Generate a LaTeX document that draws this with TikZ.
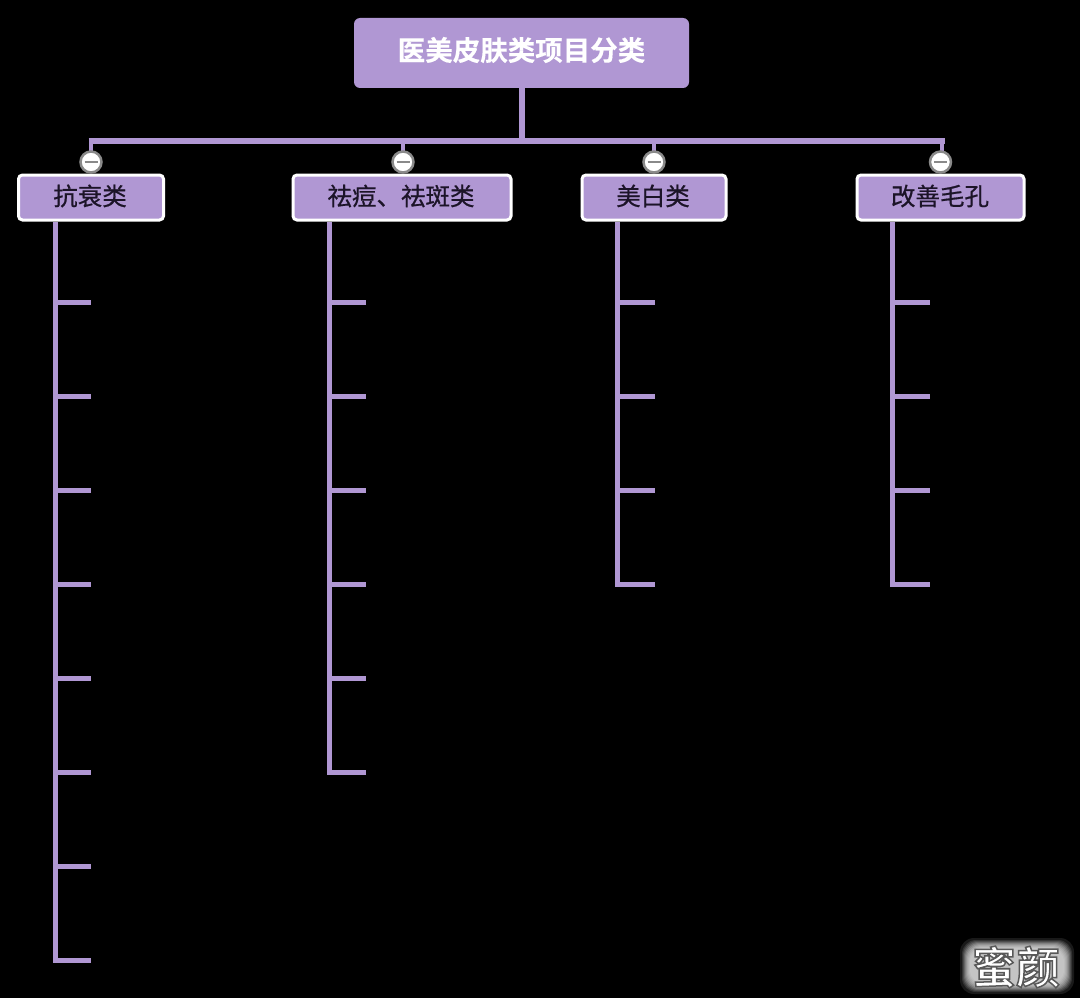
\documentclass[tikz,border=0pt]{standalone}
\usepackage{fontspec}
\setmainfont{Noto Sans CJK SC}
\newfontfamily\cjkbold[FakeBold=0.3]{Noto Sans CJK SC Bold}
\newfontfamily\cjkmed[FakeBold=0.6]{Noto Sans CJK SC}
\newfontfamily\cjkmark{Noto Sans CJK SC Bold}
\definecolor{lav}{HTML}{B097D3}
\definecolor{inkc}{HTML}{1C1428}
\definecolor{ringc}{HTML}{8A8A8A}
\newcommand{\rootstrut}{\rule[-15pt]{0pt}{45pt}}
\newcommand{\catstrut}{\rule[-10.4pt]{0pt}{36.4pt}}
\tikzset{
  x=1pt,y=-1pt,
  rootbox/.style={fill=lav,rounded corners=6pt,minimum width=335pt,minimum height=70pt,text=white,font=\cjkbold\fontsize{27.5}{27.5}\selectfont,inner sep=0pt},
  catbox/.style={fill=lav,draw=white,line width=3pt,rounded corners=4pt,minimum height=45pt,text=inkc,font=\cjkmed\fontsize{24.5}{25}\selectfont,inner sep=0pt},
  branch/.style={draw=lav,line width=5.5pt},
  stub/.style={draw=lav,line width=4.5pt},
  tick/.style={draw=lav,line width=5pt},
  toggle/.style={circle,fill=white,draw=ringc,line width=2.5pt,minimum size=21pt,inner sep=0pt},
  minusbar/.style={draw=ringc,line width=1.8pt},
  wmark/.style={font=\cjkmark\fontsize{44}{44}\selectfont,inner sep=0pt,text=white},
}
\begin{document}
\begin{tikzpicture}
\useasboundingbox (0,0) rectangle (1080,998);
\fill[black] (0,0) rectangle (1080,998);

\coordinate (busL) at (91,141);
\coordinate (busM) at (522,141);
\coordinate (busB) at (403,141);
\coordinate (busC) at (654,141);
\coordinate (busR) at (942,141);

\node[rootbox] (root) at (521.5,53) {\rootstrut 医美皮肤类项目分类};
\node[catbox,minimum width=145pt] (a) at (91,197.5) {\catstrut 抗衰类\hspace*{2pt}};
\node[catbox,minimum width=218pt] (b) at (402,197.5) {\catstrut 祛痘、祛斑类\hspace*{2pt}};
\node[catbox,minimum width=144pt] (c) at (654,197.5) {\catstrut 美白类\hspace*{2pt}};
\node[catbox,minimum width=167pt] (d) at (940.5,197.5) {\catstrut 改善毛孔\hspace*{1pt}};

\draw[branch] (root.south -| busM) -- (busM);
\draw[branch] ([xshift=-2.5pt]busL) -- ([xshift=2.5pt]busR);
\draw[stub] (busL) -- (91,152);
\draw[stub] (busB) -- (403,152);
\draw[stub] (busC) -- (654,152);
\draw[stub] (busR) -- (942,152);

\node[toggle] (ta) at (91,162) {};
\node[toggle] (tb) at (403,162) {};
\node[toggle] (tc) at (654,162) {};
\node[toggle] (td) at (940.5,162) {};
\foreach \t in {ta,tb,tc,td}{
  \draw[minusbar] ([xshift=-6.5pt]\t.center) -- ([xshift=6.5pt]\t.center);
}

\coordinate (ae) at (55,960);
\coordinate (be) at (329,772);
\coordinate (ce) at (617,584);
\coordinate (de) at (892,584);
\draw[tick,line cap=rect] ([yshift=-2.5pt]a.south -| ae) -- (ae);
\draw[tick,line cap=rect] ([yshift=-2.5pt]b.south -| be) -- (be);
\draw[tick,line cap=rect] ([yshift=-2.5pt]c.south -| ce) -- (ce);
\draw[tick,line cap=rect] ([yshift=-2.5pt]d.south -| de) -- (de);

\foreach \y in {302,396,490,584,678,772,866,960}{
  \coordinate (at\y) at (91,\y);
  \draw[tick] (at\y -| ae) -- (at\y);
}
\foreach \y in {302,396,490,584,678,772}{
  \coordinate (bt\y) at (366,\y);
  \draw[tick] (bt\y -| be) -- (bt\y);
}
\foreach \y in {302,396,490,584}{
  \coordinate (ct\y) at (655,\y);
  \draw[tick] (ct\y -| ce) -- (ct\y);
  \coordinate (dt\y) at (930,\y);
  \draw[tick] (dt\y -| de) -- (dt\y);
}

% watermark: soft grey patch, then outlined white lettering
\foreach \s/\c in {-2/10,0/20,1/30,2/40,3/50,4/58,5/65,6/70,7/74,8/77}{
  \fill[white!\c!black,rounded corners=14pt] (962+\s,940+\s) rectangle (1072-\s,992-\s);
}
\node[wmark] (wm) at (1016,967) {\special{pdf:code q 2 Tr 1.5 w 0.35 G}蜜颜\special{pdf:code Q}};
\end{tikzpicture}
\end{document}
